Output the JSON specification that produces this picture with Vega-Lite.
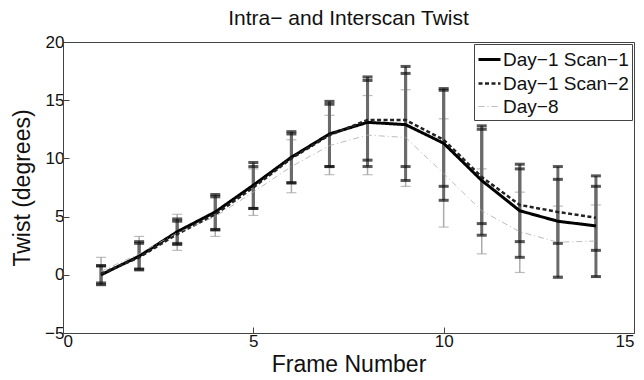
{
  "$schema": "https://vega.github.io/schema/vega-lite/v6.json",
  "autosize": "none",
  "padding": {"left": 63, "top": 42, "right": 10, "bottom": 47},
  "width": 571,
  "height": 291,
  "title": {"text": "Intra− and Interscan Twist", "fontSize": 21, "fontWeight": "normal", "font": "Liberation Sans", "color": "#111", "offset": 4},
  "config": {
    "view": {"stroke": "#444", "strokeWidth": 1},
    "font": "Liberation Sans",
    "axis": {"grid": false, "domainColor": "#444", "tickColor": "#444", "tickSize": -6, "labelFontSize": 17, "labelColor": "#111", "titleFontSize": 23, "titleFontWeight": "normal", "titleColor": "#111", "labelFont": "Liberation Sans", "titleFont": "Liberation Sans"}
  },
  "data": {"values": [
    {"frame": 1, "series": "Day−1 Scan−1", "twist": 0.0, "lo": -0.85, "hi": 0.75},
    {"frame": 2, "series": "Day−1 Scan−1", "twist": 1.6, "lo": 0.45, "hi": 2.85},
    {"frame": 3, "series": "Day−1 Scan−1", "twist": 3.7, "lo": 2.7, "hi": 4.8},
    {"frame": 4, "series": "Day−1 Scan−1", "twist": 5.4, "lo": 3.85, "hi": 6.9},
    {"frame": 5, "series": "Day−1 Scan−1", "twist": 7.7, "lo": 5.7, "hi": 9.65},
    {"frame": 6, "series": "Day−1 Scan−1", "twist": 10.1, "lo": 7.9, "hi": 12.3},
    {"frame": 7, "series": "Day−1 Scan−1", "twist": 12.1, "lo": 9.3, "hi": 14.9},
    {"frame": 8, "series": "Day−1 Scan−1", "twist": 13.1, "lo": 9.3, "hi": 17.0},
    {"frame": 9, "series": "Day−1 Scan−1", "twist": 12.9, "lo": 8.1, "hi": 17.9},
    {"frame": 10, "series": "Day−1 Scan−1", "twist": 11.3, "lo": 6.4, "hi": 16.0},
    {"frame": 11, "series": "Day−1 Scan−1", "twist": 8.1, "lo": 3.4, "hi": 12.8},
    {"frame": 12, "series": "Day−1 Scan−1", "twist": 5.5, "lo": 1.5, "hi": 9.5},
    {"frame": 13, "series": "Day−1 Scan−1", "twist": 4.6, "lo": -0.2, "hi": 9.3},
    {"frame": 14, "series": "Day−1 Scan−1", "twist": 4.2, "lo": -0.15, "hi": 8.5},
    {"frame": 1, "series": "Day−1 Scan−2", "twist": 0.1, "lo": -0.7, "hi": 0.8},
    {"frame": 2, "series": "Day−1 Scan−2", "twist": 1.5, "lo": 0.5, "hi": 2.7},
    {"frame": 3, "series": "Day−1 Scan−2", "twist": 3.5, "lo": 2.6, "hi": 4.6},
    {"frame": 4, "series": "Day−1 Scan−2", "twist": 5.2, "lo": 3.9, "hi": 6.7},
    {"frame": 5, "series": "Day−1 Scan−2", "twist": 7.5, "lo": 5.7, "hi": 9.3},
    {"frame": 6, "series": "Day−1 Scan−2", "twist": 10.0, "lo": 7.9, "hi": 12.1},
    {"frame": 7, "series": "Day−1 Scan−2", "twist": 12.0, "lo": 9.3, "hi": 14.65},
    {"frame": 8, "series": "Day−1 Scan−2", "twist": 13.3, "lo": 9.85, "hi": 16.7},
    {"frame": 9, "series": "Day−1 Scan−2", "twist": 13.3, "lo": 9.3, "hi": 17.3},
    {"frame": 10, "series": "Day−1 Scan−2", "twist": 11.6, "lo": 7.6, "hi": 15.85},
    {"frame": 11, "series": "Day−1 Scan−2", "twist": 8.4, "lo": 4.4, "hi": 12.5},
    {"frame": 12, "series": "Day−1 Scan−2", "twist": 6.0, "lo": 2.85, "hi": 9.1},
    {"frame": 13, "series": "Day−1 Scan−2", "twist": 5.4, "lo": 2.7, "hi": 8.2},
    {"frame": 14, "series": "Day−1 Scan−2", "twist": 4.9, "lo": 2.1, "hi": 7.6},
    {"frame": 1, "series": "Day−8", "twist": 0.3, "lo": -0.9, "hi": 1.5},
    {"frame": 2, "series": "Day−8", "twist": 1.8, "lo": 0.3, "hi": 3.3},
    {"frame": 3, "series": "Day−8", "twist": 3.6, "lo": 2.1, "hi": 5.2},
    {"frame": 4, "series": "Day−8", "twist": 5.0, "lo": 3.3, "hi": 6.8},
    {"frame": 5, "series": "Day−8", "twist": 7.1, "lo": 5.1, "hi": 9.1},
    {"frame": 6, "series": "Day−8", "twist": 9.3, "lo": 7.05, "hi": 11.6},
    {"frame": 7, "series": "Day−8", "twist": 11.1, "lo": 8.6, "hi": 13.7},
    {"frame": 8, "series": "Day−8", "twist": 12.0, "lo": 8.6, "hi": 15.4},
    {"frame": 9, "series": "Day−8", "twist": 11.8, "lo": 7.6, "hi": 15.9},
    {"frame": 10, "series": "Day−8", "twist": 8.7, "lo": 4.1, "hi": 13.4},
    {"frame": 11, "series": "Day−8", "twist": 5.5, "lo": 1.8, "hi": 9.1},
    {"frame": 12, "series": "Day−8", "twist": 3.7, "lo": 0.2, "hi": 7.1},
    {"frame": 13, "series": "Day−8", "twist": 2.8, "lo": -0.3, "hi": 5.9},
    {"frame": 14, "series": "Day−8", "twist": 2.9, "lo": -0.2, "hi": 6.0}
  ]},
  "encoding": {
    "x": {"field": "frame", "type": "quantitative", "scale": {"domain": [0, 15], "nice": false}, "axis": {"values": [0, 5, 10, 15], "title": "Frame Number", "titlePadding": 4, "labelPadding": 6}}
  },
  "layer": [
    {
      "transform": [{"filter": "datum.series == 'Day−8'"}],
      "mark": {"type": "rule", "color": "#ababab", "strokeWidth": 1.5},
      "encoding": {
        "y": {"field": "lo", "type": "quantitative", "scale": {"domain": [-5, 20], "nice": false}, "axis": {"values": [-5, 0, 5, 10, 15, 20], "title": "Twist (degrees)", "titlePadding": 10, "labelPadding": 5}},
        "y2": {"field": "hi"}
      }
    },
    {
      "transform": [{"filter": "datum.series == 'Day−8'"}],
      "mark": {"type": "tick", "color": "#a0a0a0", "orient": "horizontal", "thickness": 1.2, "size": 10},
      "encoding": {"y": {"field": "lo", "type": "quantitative"}}
    },
    {
      "transform": [{"filter": "datum.series == 'Day−8'"}],
      "mark": {"type": "tick", "color": "#a0a0a0", "orient": "horizontal", "thickness": 1.2, "size": 10},
      "encoding": {"y": {"field": "hi", "type": "quantitative"}}
    },
    {
      "transform": [{"filter": "datum.series != 'Day−8'"}],
      "mark": {"type": "rule", "color": "#6a6a6a", "strokeWidth": 3},
      "encoding": {"y": {"field": "lo", "type": "quantitative"}, "y2": {"field": "hi"}}
    },
    {
      "transform": [{"filter": "datum.series != 'Day−8'"}],
      "mark": {"type": "tick", "color": "#111", "orient": "horizontal", "thickness": 3, "size": 10},
      "encoding": {"y": {"field": "lo", "type": "quantitative"}}
    },
    {
      "transform": [{"filter": "datum.series != 'Day−8'"}],
      "mark": {"type": "tick", "color": "#111", "orient": "horizontal", "thickness": 3, "size": 10},
      "encoding": {"y": {"field": "hi", "type": "quantitative"}}
    },
    {
      "mark": {"type": "line"},
      "encoding": {
        "y": {"field": "twist", "type": "quantitative"},
        "color": {"field": "series", "type": "nominal", "scale": {"domain": ["Day−1 Scan−1", "Day−1 Scan−2", "Day−8"], "range": ["#000000", "#222222", "#aaaaaa"]}, "legend": {"title": null, "orient": "top-right", "offset": 2, "strokeColor": "#444", "padding": 3, "labelFontSize": 19, "labelFont": "Liberation Sans", "labelColor": "#111", "symbolType": "stroke", "symbolSize": 484, "labelOffset": 1, "rowPadding": 1, "fillColor": "white"}},
        "strokeDash": {"field": "series", "type": "nominal", "scale": {"domain": ["Day−1 Scan−1", "Day−1 Scan−2", "Day−8"], "range": [[1, 0], [4, 2.5], [6, 3, 1, 3]]}, "legend": {"title": null}},
        "strokeWidth": {"field": "series", "type": "nominal", "scale": {"type": "ordinal", "domain": ["Day−1 Scan−1", "Day−1 Scan−2", "Day−8"], "range": [3, 2.5, 0.8]}, "legend": {"title": null}}
      }
    }
  ]
}
